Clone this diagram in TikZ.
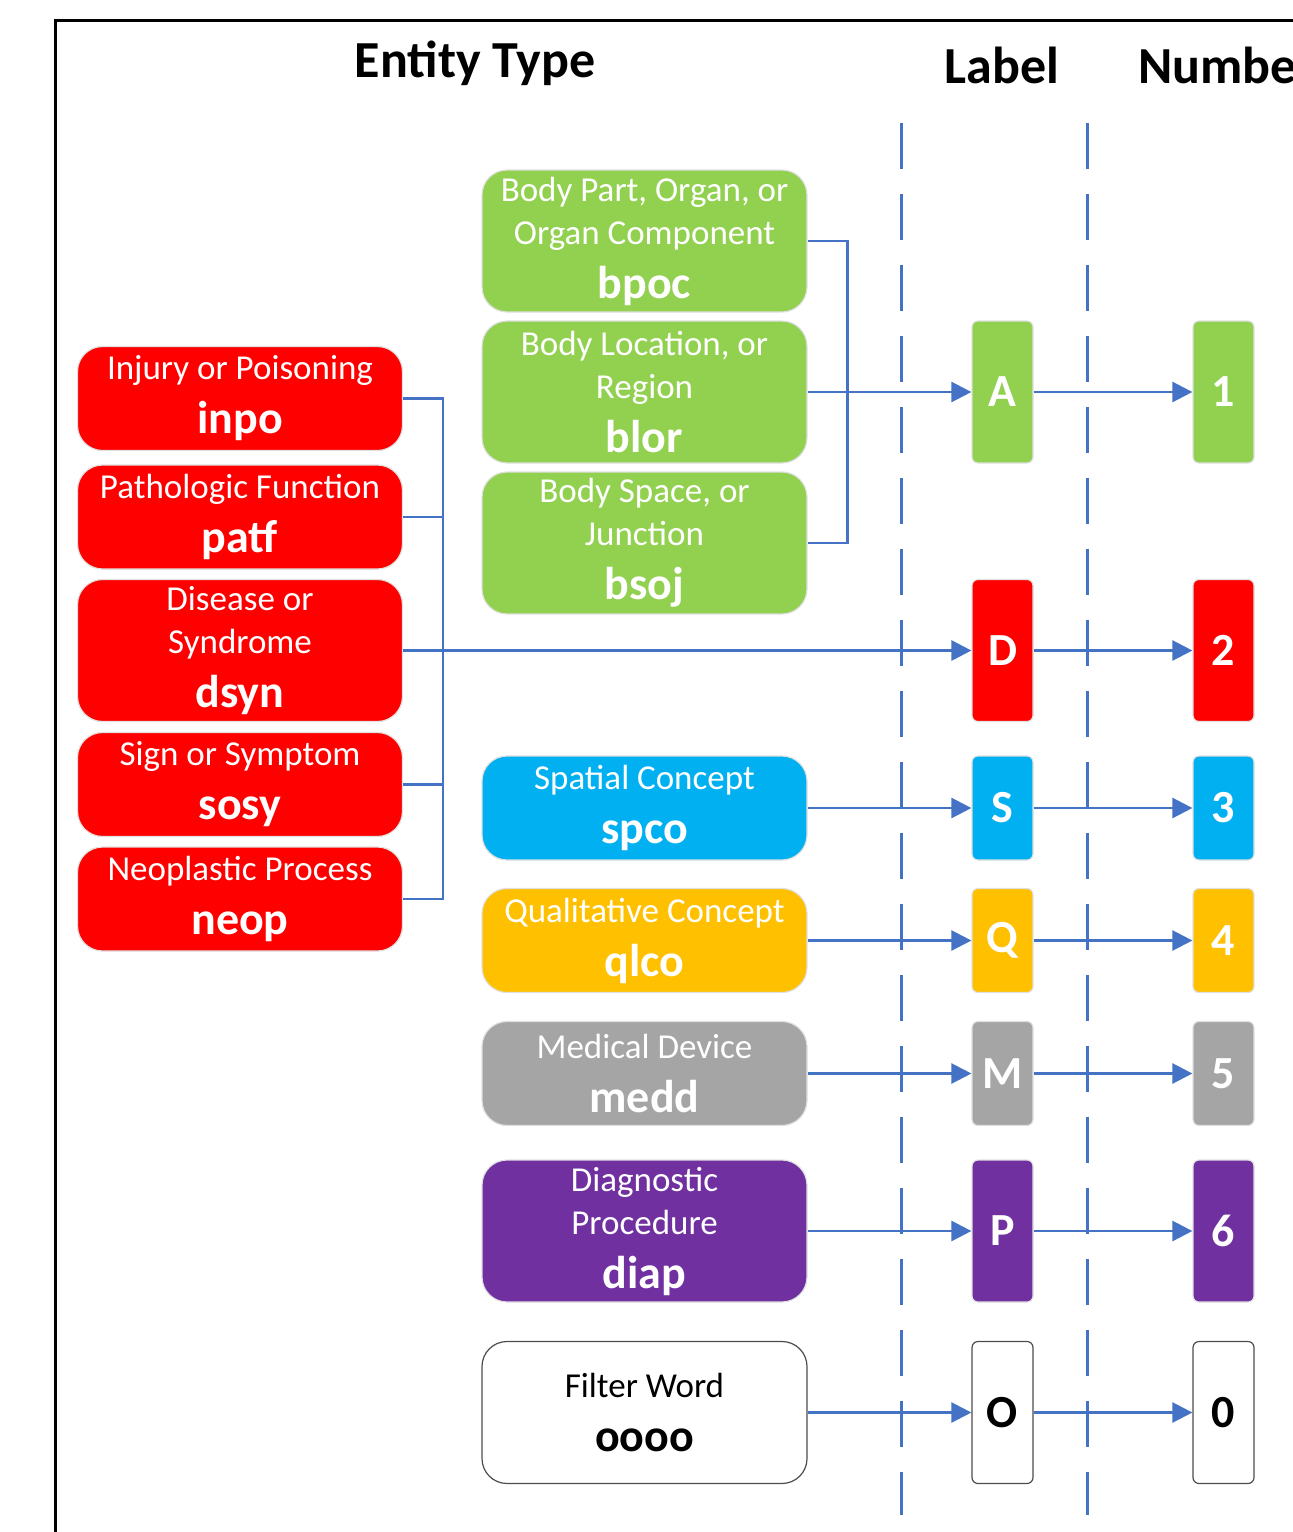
\documentclass[tikz,border=0pt]{standalone}
\usepackage{fontspec}
\setmainfont{Carlito}
\usepackage{tikz}
\usetikzlibrary{positioning,arrows.meta}

\definecolor{ofblue}{RGB}{68,114,196}
\definecolor{grn}{RGB}{146,208,80}
\definecolor{rd}{RGB}{255,0,0}
\definecolor{cyn}{RGB}{0,176,240}
\definecolor{ylw}{RGB}{255,192,0}
\definecolor{gry}{RGB}{165,165,165}
\definecolor{prp}{RGB}{112,48,160}

\newcommand{\namefont}{\fontsize{17.5}{21.5}\selectfont}
\newcommand{\codefont}{\fontsize{23}{27}\selectfont\bfseries}
\newcommand{\titlefont}{\fontsize{26}{30}\selectfont\bfseries}

\tikzstyle{ent}=[draw=black!12, line width=0.6pt, rounded corners=12.5pt, minimum width=162.5pt, text=white, align=center, font=\namefont, inner sep=0pt]
\tikzstyle{lab}=[draw=black!12, line width=0.6pt, rounded corners=3pt, minimum width=30.5pt, text=white, font=\codefont, inner sep=0pt]
\tikzstyle{boxlow}=[minimum height=52pt]
\tikzstyle{boxhigh}=[minimum height=71pt]
\tikzstyle{conn}=[ofblue, line width=1.25pt]
\tikzstyle{divline}=[ofblue, line width=1.5pt, dash pattern=on 23pt off 12.5pt]

\begin{document}
\begin{tikzpicture}[x=0.5pt,y=-0.5pt,>={Triangle[length=10pt,width=10pt]}]
\useasboundingbox (0,0) rectangle (1293,1532);
\clip (0,0) rectangle (1293,1532);
\draw[line width=1.5pt] (55,1532) -- (55,20) -- (1293,20);

% headings
\node[font=\titlefont, anchor=base] (title) at (475,77) {Entity Type};
\node[font=\titlefont, anchor=base] (lblhead) at (1002,83) {Label};
\node[font=\titlefont, anchor=base west] (numhead) at (1131,83) {Number};

% column separators
\draw[divline] (901,123) -- (901,1515);
\draw[divline] (1087,123) -- (1087,1515);

% red group
\node[ent, boxlow, fill=rd] (inpo) at (240,398.5) {Injury or Poisoning\\[5.5pt]{\codefont inpo}};
\node[ent, boxlow, fill=rd] (patf) at (240,517) {Pathologic Function\\[5.5pt]{\codefont patf}};
\node[ent, boxhigh, fill=rd] (dsyn) at (240,650.5) {Disease or\\Syndrome\\[5.5pt]{\codefont dsyn}};
\node[ent, boxlow, fill=rd] (sosy) at (240,784.5) {Sign or Symptom\\[5.5pt]{\codefont sosy}};
\node[ent, boxlow, fill=rd] (neop) at (240,899) {Neoplastic Process\\[5.5pt]{\codefont neop}};

% green group
\node[ent, boxhigh, fill=grn] (bpoc) at (644.5,241) {Body Part, Organ, or\\Organ Component\\[5.5pt]{\codefont bpoc}};
\node[ent, boxhigh, fill=grn] (blor) at (644.5,392) {Body Location, or\\Region\\[5.5pt]{\codefont blor}};
\node[ent, boxhigh, fill=grn] (bsoj) at (644.5,543) {Body Space, or\\Junction\\[5.5pt]{\codefont bsoj}};

\node[ent, boxlow, fill=cyn] (spco) at (644.5,808) {Spatial Concept\\[5.5pt]{\codefont spco}};
\node[ent, boxlow, fill=ylw] (qlco) at (644.5,940.5) {Qualitative Concept\\[5.5pt]{\codefont qlco}};
\node[ent, boxlow, fill=gry] (medd) at (644.5,1073.5) {Medical Device\\[5.5pt]{\codefont medd}};
\node[ent, boxhigh, fill=prp] (diap) at (644.5,1231) {Diagnostic\\Procedure\\[5.5pt]{\codefont diap}};
\node[ent, boxhigh, fill=white, draw=black!70, text=black] (oooo) at (644.5,1412.5) {Filter Word\\[5.5pt]{\codefont oooo}};

% labels
\node[lab, boxhigh, fill=grn, right of = blor, node distance = 179pt] (labA) {A};
\node[lab, boxhigh, fill=rd, right of = dsyn, node distance = 381.25pt] (labD) {D};
\node[lab, boxlow, fill=cyn, right of = spco, node distance = 179pt] (labS) {S};
\node[lab, boxlow, fill=ylw, right of = qlco, node distance = 179pt] (labQ) {Q};
\node[lab, boxlow, fill=gry, right of = medd, node distance = 179pt] (labM) {M};
\node[lab, boxhigh, fill=prp, right of = diap, node distance = 179pt] (labP) {P};
\node[lab, boxhigh, fill=white, draw=black!70, text=black, right of = oooo, node distance = 179pt] (labO) {O};

% numbers
\node[lab, boxhigh, fill=grn, right of = labA, node distance = 110.5pt] (num1) {1};
\node[lab, boxhigh, fill=rd, right of = labD, node distance = 110.5pt] (num2) {2};
\node[lab, boxlow, fill=cyn, right of = labS, node distance = 110.5pt] (num3) {3};
\node[lab, boxlow, fill=ylw, right of = labQ, node distance = 110.5pt] (num4) {4};
\node[lab, boxlow, fill=gry, right of = labM, node distance = 110.5pt] (num5) {5};
\node[lab, boxhigh, fill=prp, right of = labP, node distance = 110.5pt] (num6) {6};
\node[lab, boxhigh, fill=white, draw=black!70, text=black, right of = labO, node distance = 110.5pt] (num0) {0};

% brackets
\draw[conn] (inpo.east) -- ++(20pt,0) |- (neop.east);
\draw[conn] (patf.east) -- ++(20pt,0);
\draw[conn] (sosy.east) -- ++(20pt,0);
\draw[conn] (bpoc.east) -- ++(20pt,0) |- (bsoj.east);

% entity -> label -> number
\draw[conn,->] (blor.east) -- (labA.west);
\draw[conn,->,line width=1.5pt] (dsyn.east) -- (labD.west);
\draw[conn,->] (spco.east) -- (labS.west);
\draw[conn,->] (qlco.east) -- (labQ.west);
\draw[conn,->] (medd.east) -- (labM.west);
\draw[conn,->] (diap.east) -- (labP.west);
\draw[conn,->] (oooo.east) -- (labO.west);

\draw[conn,->] (labA.east) -- (num1.west);
\draw[conn,->] (labD.east) -- (num2.west);
\draw[conn,->] (labS.east) -- (num3.west);
\draw[conn,->] (labQ.east) -- (num4.west);
\draw[conn,->] (labM.east) -- (num5.west);
\draw[conn,->] (labP.east) -- (num6.west);
\draw[conn,->] (labO.east) -- (num0.west);
\end{tikzpicture}
\end{document}
